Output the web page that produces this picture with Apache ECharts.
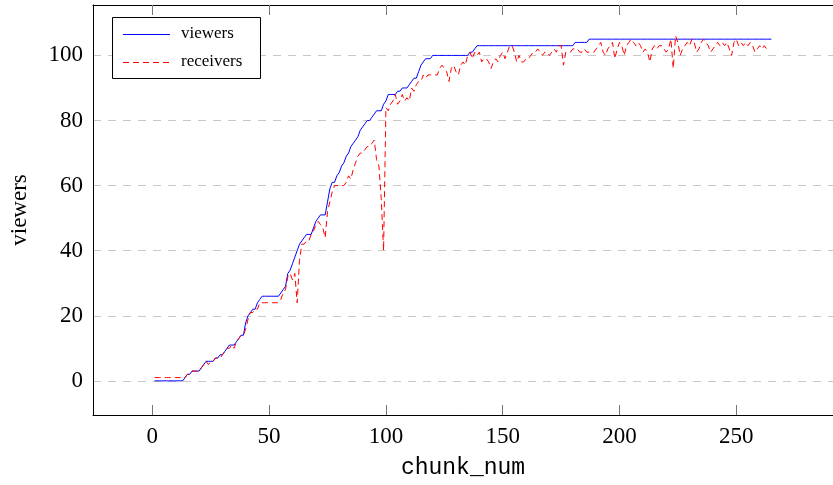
<!DOCTYPE html>
<html>
<head>
<meta charset="utf-8">
<script src="https://cdn.jsdelivr.net/npm/echarts@6/dist/echarts.min.js"></script>
<style>
html,body{margin:0;padding:0;background:#fff;}
#chart{width:833px;height:485px;}
</style>
</head>
<body>
<div id="chart"></div>
<script>
// chunk_num starts at 1
const viewers = [
  0,0,0,0,0,0,0,0,0,0,
  0,0,0,1,2,2,3,3,3,3,
  4,5,6,6,6,6,7,7,8,8,
  9,10,11,11,11,12,13,14,14,18,
  20,21,22,22,24,25,26,26,26,26,
  26,26,26,26,27,28,29,33,34,36,
  38,40,42,43,44,45,45,45,47,49,
  50,51,51,51,55,59,61,61,63,64,
  66,67,69,70,72,73,74,75,77,78,
  79,80,80,81,82,83,83,83,85,86,
  88,88,88,88,89,89,90,90,90,91,
  92,93,93,95,97,98,99,99,99,100,
  100,100,100,100,100,100,100,100,100,100,
  100,100,100,100,100,101,101,102,103,103,
  103,103,103,103,103,103,103,103,103,103,
  103,103,103,103,103,103,103,103,103,103,
  103,103,103,103,103,103,103,103,103,103,
  103,103,103,103,103,103,103,103,103,103,
  104,104,104,104,104,104,105,105,105,105,
  105,105,105,105,105,105,105,105,105,105,
  105,105,105,105,105,105,105,105,105,105,
  105,105,105,105,105,105,105,105,105,105,
  105,105,105,105,105,105,105,105,105,105,
  105,105,105,105,105,105,105,105,105,105,
  105,105,105,105,105,105,105,105,105,105,
  105,105,105,105,105,105,105,105,105,105,
  105,105,105,105,105
];
const receivers = [
  1,1,1,1,1,1,1,1,1,1,
  1,1,1,1,2,2,3,3,3,3,
  4,5,6,5,6,6,7,7,7,8,
  9,10,10,11,10,12,13,14,14,16,
  19,21,21,22,22,24,24,24,24,24,
  24,24,24,24,25,27,28,32,33,31,
  33,24,37,42,42,43,43,45,46,48,
  49,48,47,44,52,55,58,60,60,60,
  60,60,61,63,62,65,67,69,70,70,
  71,72,72,73,74,68,66,56,40,84,
  83,85,86,88,85,86,88,86,87,86,
  90,89,91,92,92,94,93,94,94,94,
  94,94,96,97,96,95,92,96,97,95,
  94,97,98,97,100,101,99,101,100,101,
  98,99,99,98,96,98,99,98,100,101,
  99,101,103,103,101,98,100,98,98,99,
  99,100,101,101,102,101,100,101,101,100,
  101,102,101,103,103,97,101,101,101,102,
  102,102,101,101,102,101,101,101,101,102,
  103,104,101,100,102,103,104,99,102,104,
  103,100,103,104,105,104,103,104,103,101,
  102,101,98,102,103,102,103,103,102,101,
  102,105,96,106,104,100,102,103,104,103,
  105,104,101,102,104,105,104,103,101,102,
  103,104,103,104,103,104,102,100,104,105,
  103,104,103,104,103,104,103,101,102,103,
  102,103,102
];
const xTicks = [0, 50, 100, 150, 200, 250];
const yTicks = [0, 20, 40, 60, 80, 100];
const seriesNames = ['viewers', 'receivers'];

const toPairs = arr => arr.map((v, i) => [i + 1, v]);

const serif = 'Liberation Serif';
const chart = echarts.init(document.getElementById('chart'), null, {renderer: 'canvas'});
chart.setOption({
  backgroundColor: '#ffffff',
  animation: false,
  grid: {left: 90, top: 5, right: -9, bottom: 70, show: false},
  graphic: [
    {type: 'rect', z: 100, shape: {x: 112.5, y: 17.5, width: 148, height: 61},
     style: {fill: '#fff', stroke: '#000', lineWidth: 1}},
    {type: 'line', z: 101, shape: {x1: 123, y1: 34.5, x2: 170, y2: 34.5},
     style: {stroke: '#0000ff', lineWidth: 1}},
    {type: 'line', z: 101, shape: {x1: 123, y1: 62.5, x2: 170, y2: 62.5},
     style: {stroke: '#ff0000', lineWidth: 1, lineDash: [6, 4]}},
    {type: 'text', z: 101, x: 181, y: 34,
     style: {text: seriesNames[0], font: '17px "Liberation Serif"', fill: '#000', textVerticalAlign: 'middle', verticalAlign: 'middle'}},
    {type: 'text', z: 101, x: 181, y: 62,
     style: {text: seriesNames[1], font: '17px "Liberation Serif"', fill: '#000', textVerticalAlign: 'middle', verticalAlign: 'middle'}}
  ],
  xAxis: [{
    type: 'value', min: -25.4, max: 291.4,
    name: 'chunk_num', nameLocation: 'middle', nameGap: 41,
    nameTextStyle: {fontFamily: 'Liberation Mono', fontSize: 23, color: '#000'},
    axisLine: {show: true, onZero: false, lineStyle: {color: '#000', width: 1}},
    axisTick: {show: true, inside: true, length: 10, customValues: xTicks, lineStyle: {color: '#777'}},
    axisLabel: {customValues: xTicks, fontFamily: serif, fontSize: 23, color: '#000', margin: 10},
    splitLine: {show: false}
  }, {
    type: 'value', min: -25.4, max: 291.4, position: 'top',
    axisLine: {show: true, onZero: false, lineStyle: {color: '#000', width: 1}},
    axisTick: {show: true, inside: true, length: 10, customValues: xTicks, lineStyle: {color: '#777'}},
    axisLabel: {show: false},
    splitLine: {show: false}
  }],
  yAxis: [{
    type: 'value', min: -10.5, max: 115.5,
    name: 'viewers', nameLocation: 'middle', nameGap: 62, nameRotate: 90,
    nameTextStyle: {fontFamily: serif, fontSize: 23, color: '#000'},
    axisLine: {show: true, onZero: false, lineStyle: {color: '#000', width: 1}},
    axisTick: {show: false, customValues: yTicks},
    axisLabel: {customValues: yTicks, fontFamily: serif, fontSize: 23, color: '#000', margin: 10},
    splitLine: {show: true, lineStyle: {color: '#c8c8c8', width: 1, type: [8, 7]}}
  }],
  series: [{
    name: seriesNames[0], type: 'line', data: toPairs(viewers),
    symbol: 'none', lineStyle: {color: '#0000ff', width: 1}, itemStyle: {color: '#0000ff'}
  }, {
    name: seriesNames[1], type: 'line', data: toPairs(receivers),
    symbol: 'none', lineStyle: {color: '#ff0000', width: 1, type: [6, 4]}, itemStyle: {color: '#ff0000'}
  }]
});
</script>
</body>
</html>
